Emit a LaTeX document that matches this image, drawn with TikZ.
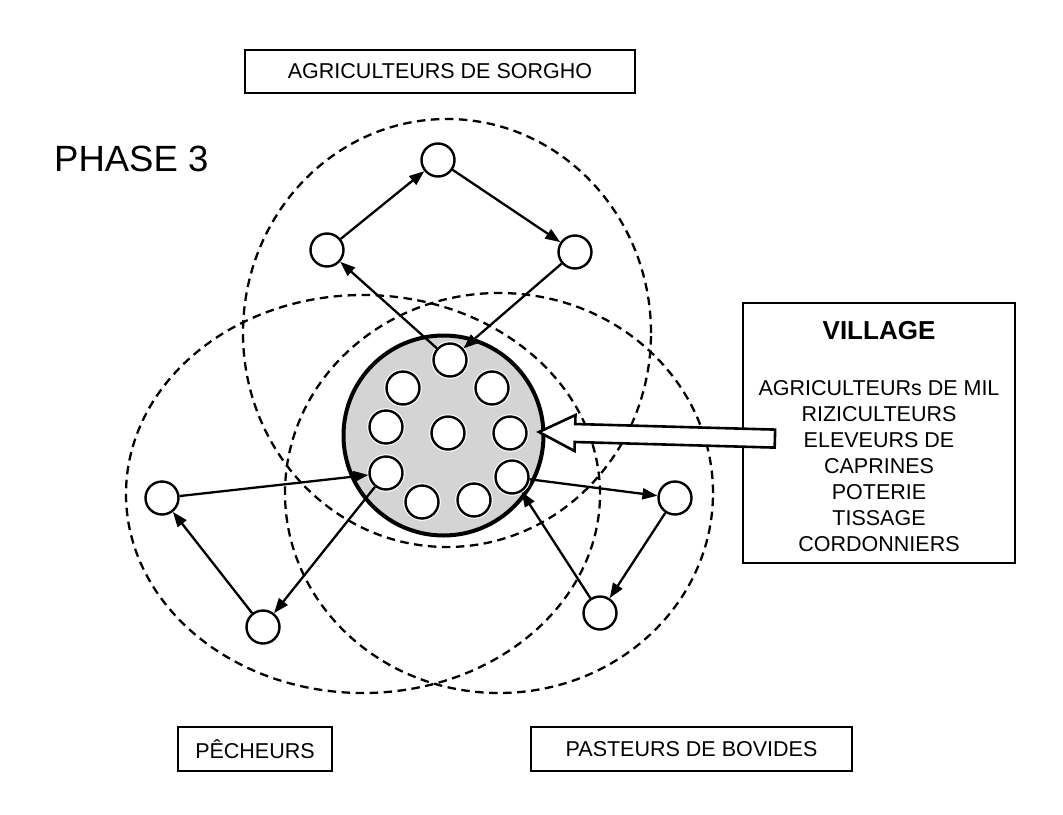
\documentclass[tikz,border=0pt]{standalone}
\usepackage{fontspec}
\setmainfont{Liberation Sans}
\usetikzlibrary{arrows.meta,calc}
\tikzset{
  zone/.style     = {dash pattern=on 8.5pt off 5.5pt, line width=2.3pt},
  hut/.style      = {circle, draw, line width=2.4pt, fill=white,
                     preaction={draw=white, line width=4.6pt},
                     inner sep=0pt, minimum size=33pt},
  village/.style  = {circle, draw, line width=4pt, fill=black!17,
                     inner sep=0pt, minimum size=200pt},
  flow/.style     = {-{Triangle[length=15pt,width=11pt]}, line width=2.3pt},
  groupbox/.style = {draw, line width=2.4pt, inner sep=0pt,
                     font=\fontsize{21.5}{26}\selectfont},
  boxtext/.style  = {font=\fontsize{21.5}{26}\selectfont, inner sep=0pt, anchor=base},
  bigarrow/.style = {draw, line width=2.6pt, fill=white, line join=miter},
}

\begin{document}
\begin{tikzpicture}[x=1pt,y=-1pt]
  \useasboundingbox (0,0) rectangle (1063,814);

  % territories
  \draw[zone] (447,333) ellipse [x radius=204pt, y radius=214pt];
  \draw[zone] (363,494) ellipse [x radius=237pt, y radius=199pt];
  \draw[zone] (499,493) ellipse [x radius=214pt, y radius=200pt];

  % titles
  \node[anchor=base west, inner sep=0pt, font=\fontsize{36.5}{40}\selectfont] (phase) at (54,171) {PHASE 3};
  \node[groupbox, minimum width=390pt, minimum height=43pt] (sorgho) at (440,71.5) {AGRICULTEURS DE SORGHO};
  \node[groupbox, minimum width=154pt, minimum height=44pt] (peche) at (255,749) {PÊCHEURS};
  \node[groupbox, minimum width=321pt, minimum height=44pt] (bovins) at (691.5,749) {PASTEURS DE BOVIDES};

  % village
  \node[village] (vill) at (443.5,435.5) {};
  \foreach \x/\y [count=\i] in {450/360, 403/388, 492/388, 386/427, 448/433,
                                510/433, 386/473, 512/477, 422/502, 474/500}
    \node[hut] (v\i) at (\x,\y) {};

  % camps
  \node[hut] (s1) at (327,250) {};
  \node[hut] (s2) at (438,160) {};
  \node[hut] (s3) at (575,252) {};
  \node[hut] (p1) at (162,498) {};
  \node[hut] (p2) at (263,627) {};
  \node[hut] (b1) at (675,498) {};
  \node[hut] (b2) at (600,613) {};

  % movements
  \draw[flow] (s1) -- (s2);
  \draw[flow] (s2) -- (s3);
  \draw[flow] (s3) -- (v1);
  \draw[flow] (v1) -- (s1);
  \draw[flow] (p1) -- (v7);
  \draw[flow] (v7) -- (p2);
  \draw[flow] (p2) -- (p1);
  \draw[flow] (v8) -- (b1);
  \draw[flow] (b1) -- (b2);
  \draw[flow] (b2) -- (v8);

  % village legend
  \node[groupbox, minimum width=272pt, minimum height=260pt] (villbox) at (879,433) {};
  \node[boxtext, font=\fontsize{26}{30}\selectfont\bfseries] (villtitle) at (879,339) {VILLAGE};
  \foreach \t [count=\i] in {AGRICULTEURs DE MIL, RIZICULTEURS, ELEVEURS DE,
                             CAPRINES, POTERIE, TISSAGE, CORDONNIERS}
    \node[boxtext] (l\i) at (879,{395+26*(\i-1)}) {\t};

  \begin{scope}[shift={($(vill.east)+(-6.5,-3.5)$)}, rotate=-1.6]
    \draw[bigarrow] (0,0) -- (36,-18) -- (36,-9) -- (236,-9)
      -- (236,9) -- (36,9) -- (36,18) -- cycle;
  \end{scope}
\end{tikzpicture}
\end{document}
